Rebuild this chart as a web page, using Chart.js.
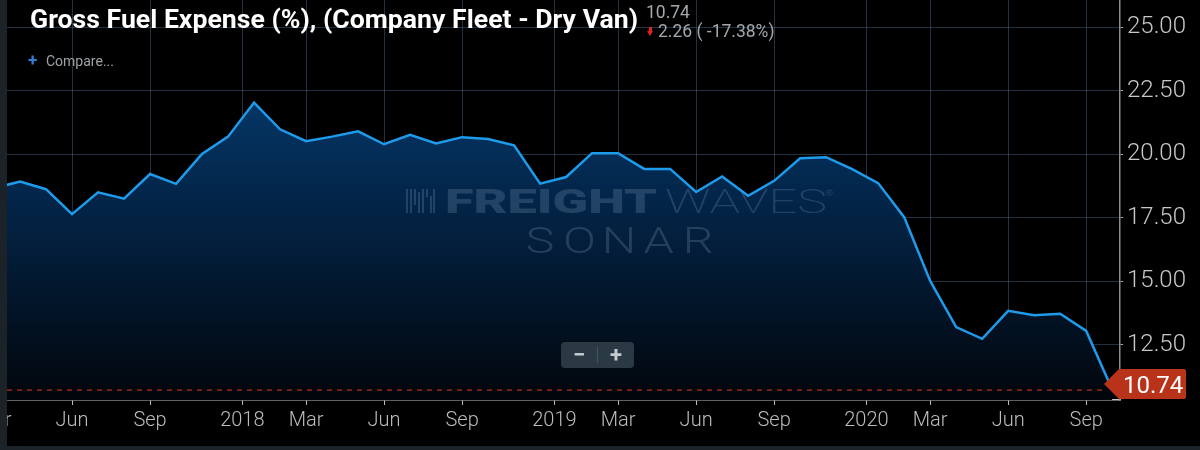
<!DOCTYPE html>
<html><head><meta charset="utf-8">
<script src="https://cdn.jsdelivr.net/npm/chart.js@4.4.0/dist/chart.umd.min.js"></script>
<style>
html,body{margin:0;padding:0;background:#000;}
#wrap{position:relative;width:1200px;height:450px;overflow:hidden;background:#000;font-family:Roboto,sans-serif;}
#c{position:absolute;left:0;top:0;}
.t{position:absolute;white-space:nowrap;transform-origin:0 0;}
#title{left:30px;top:7px;font-size:25px;line-height:25px;font-weight:700;color:#fff;}
#last{left:646px;top:4px;font-size:17.5px;line-height:17.5px;color:#a3a8ad;}
#chg{left:658px;top:22.5px;font-size:17.5px;line-height:17.5px;color:#a3a8ad;}
#arrow{position:absolute;left:647px;top:27px;width:7px;height:9px;}
#arrow .s{position:absolute;left:2px;top:0;width:3px;height:4px;background:#e3221c;}
#arrow .h{position:absolute;left:0;top:4px;width:0;height:0;border-left:3.5px solid transparent;border-right:3.5px solid transparent;border-top:5px solid #e3221c;}
#plus{left:28px;top:52px;font-size:17px;line-height:17px;font-weight:700;color:#2f7fd8;}
#cmp{left:46px;top:54px;font-size:14px;line-height:14px;color:#9ea3a8;}
#zoom{position:absolute;left:561px;top:342px;width:73px;height:26px;background:#2a3943;border-radius:4px;}
#zoom .m,#zoom .p{position:absolute;top:0;height:26px;line-height:26px;font-size:22px;font-weight:700;color:#c5ccd0;text-align:center;width:36px;}
#zoom .m{left:0;}
#zoom .p{left:37px;}
#zoom .d{position:absolute;left:36px;top:5px;width:1px;height:16px;background:#46565f;}
</style></head>
<body>
<div id="wrap">
<canvas id="c" width="1200" height="450"></canvas>
<div class="t" id="title">Gross Fuel Expense (%), (Company Fleet - Dry Van)</div>
<div class="t" id="last">10.74</div>
<div id="arrow"><div class="s"></div><div class="h"></div></div>
<div class="t" id="chg">2.26 ( -17.38%)</div>
<div class="t" id="plus">+</div>
<div class="t" id="cmp">Compare...</div>
<div id="zoom"><div class="m">−</div><div class="d"></div><div class="p">+</div></div>
</div>
<script>
// ---- data ----
const months = ['2017-03','2017-04','2017-05','2017-06','2017-07','2017-08','2017-09','2017-10','2017-11','2017-12',
 '2018-01','2018-02','2018-03','2018-04','2018-05','2018-06','2018-07','2018-08','2018-09','2018-10','2018-11','2018-12',
 '2019-01','2019-02','2019-03','2019-04','2019-05','2019-06','2019-07','2019-08','2019-09','2019-10','2019-11','2019-12',
 '2020-01','2020-02','2020-03','2020-04','2020-05','2020-06','2020-07','2020-08','2020-09','2020-10'];
const values = [18.67,18.93,18.63,17.65,18.51,18.26,19.23,18.84,20.02,20.70,
 22.04,20.99,20.52,20.70,20.91,20.40,20.77,20.43,20.68,20.61,20.36,18.85,
 19.11,20.05,20.05,19.43,19.43,18.52,19.13,18.37,18.96,19.85,19.89,19.42,
 18.87,17.53,15.02,13.20,12.74,13.84,13.67,13.73,13.05,10.74];
const xTickValues = [-1,2,5,8.55,11,14,17,20.55,23,26,29,32.55,35,38,41];
const xTickLabels = ['Mar','Jun','Sep','2018','Mar','Jun','Sep','2019','Mar','Jun','Sep','2020','Mar','Jun','Sep'];
const yTickValues = [12.5,15,17.5,20,22.5,25];
const lastValue = values[values.length-1];

function fitTitle(){
  const el=document.getElementById('title');
  el.style.transform='none';
  const w=el.getBoundingClientRect().width;
  el.style.transform='scaleX('+(608/w)+')';
}
fitTitle();
if(document.fonts&&document.fonts.ready) document.fonts.ready.then(fitTitle);

function fitText(ctx,t,font,x,y,w){
  ctx.font=font; const m=ctx.measureText(t).width;
  ctx.save(); ctx.translate(x,y); ctx.scale(w/m,1); ctx.fillText(t,0,0); ctx.restore();
}

const watermark={
  id:'watermark',
  beforeDatasetDraw(chart,args){
    if(args.index!==0) return;
    const ctx=chart.ctx; ctx.save();
    ctx.fillStyle='rgba(110,140,170,0.30)';
    ctx.textBaseline='alphabetic';
    fitText(ctx,'FREIGHT','900 34px Roboto',445,213,212);
    fitText(ctx,'WAVES','200 34px Roboto',665,213,162);
    ctx.font='9px Roboto'; ctx.fillText('®',826,196);
    ctx.font='300 36px Roboto'; ctx.textAlign='center';
    const s='SONAR';
    for(let i=0;i<s.length;i++){
      ctx.save(); ctx.translate(520+19.8+i*39.6,253); ctx.scale(1.35,1); ctx.fillText(s[i],0,0); ctx.restore();
    }
    const bars=[[406,189,24],[410,189,24],[414,189,16],[418,192,21],[422,189,24],[426,189,8],[430,196,17],[433,189,24]];
    bars.forEach(b=>ctx.fillRect(b[0],b[1],2,b[2]));
    ctx.restore();
  }
};

const overlay={
  id:'overlay',
  afterDraw(chart){
    const ctx=chart.ctx, a=chart.chartArea, ys=chart.scales.y;
    const py=ys.getPixelForValue(lastValue);
    const cy=Math.min(py,a.bottom-16);
    const tipX=1104;
    ctx.save();
    ctx.strokeStyle='rgb(190,48,32)'; ctx.lineWidth=1.2; ctx.setLineDash([5,5]);
    ctx.beginPath(); ctx.moveTo(a.left,py+0.5); ctx.lineTo(tipX,py+0.5); ctx.stroke();
    ctx.setLineDash([]);
    ctx.fillStyle='#b9331a';
    ctx.beginPath();
    ctx.moveTo(tipX,cy); ctx.lineTo(1119,cy-15); ctx.lineTo(1184,cy-15);
    ctx.quadraticCurveTo(1186,cy-15,1186,cy-13); ctx.lineTo(1186,cy+13);
    ctx.quadraticCurveTo(1186,cy+15,1184,cy+15); ctx.lineTo(1119,cy+15); ctx.closePath(); ctx.fill();
    ctx.fillStyle='#fff'; ctx.font='24px Roboto'; ctx.textAlign='left'; ctx.textBaseline='alphabetic';
    ctx.fillText(lastValue.toFixed(2),1123,cy+8.5);
    ctx.fillStyle='#1b2328';
    ctx.fillRect(0,0,7,450); ctx.fillRect(0,446,1200,4);
    ctx.restore();
  }
};

const ctx=document.getElementById('c').getContext('2d');
new Chart(ctx,{
  type:'line',
  data:{datasets:[{
    data: values.map((v,i)=>({x:i-1,y:v})),
    borderColor:'rgb(30,155,235)', borderWidth:2.5, pointRadius:0, tension:0,
    fill:'start',
    backgroundColor:(c)=>{
      const a=c.chart.chartArea; if(!a) return 'rgba(0,50,100,1)';
      const g=c.chart.ctx.createLinearGradient(0,a.top,0,a.bottom);
      g.addColorStop(0,'rgb(8,72,132)'); g.addColorStop(0.45,'rgb(3,40,78)'); g.addColorStop(1,'rgb(2,6,12)');
      return g;
    }
  }]},
  options:{
    responsive:false, animation:false, devicePixelRatio:1,
    layout:{padding:{left:7,top:0,right:0,bottom:0}},
    plugins:{legend:{display:false},tooltip:{enabled:false}},
    scales:{
      x:{type:'linear',min:-0.5,max:42.3,bounds:'data',z:1,
        afterBuildTicks:(s)=>{s.ticks=xTickValues.map(v=>({value:v}));},
        afterFit:(s)=>{s.height=50;s.paddingLeft=0;s.paddingRight=0;s.paddingTop=0;s.paddingBottom=0;},
        grid:{color:'rgba(75,110,145,0.45)',lineWidth:1,tickLength:5,tickColor:'#bdbdbd',drawTicks:true},
        border:{display:true,color:'#c4c4c4',width:1.5},
        ticks:{autoSkip:false,maxRotation:0,padding:4,color:'#bcbcbc',font:{family:'Roboto',size:20,weight:300},
          callback:(v,i)=>xTickLabels[i]}
      },
      y:{type:'linear',position:'right',min:10.33,max:26.08,bounds:'data',z:1,
        afterBuildTicks:(s)=>{s.ticks=yTickValues.map(v=>({value:v}));},
        afterFit:(s)=>{s.width=80;s.paddingLeft=0;s.paddingRight=0;s.paddingTop=0;s.paddingBottom=0;},
        grid:{color:'rgba(75,110,145,0.45)',lineWidth:1,tickLength:3,tickColor:'#aaaaaa'},
        border:{display:true,color:'#8c8c8c',width:1.5},
        ticks:{padding:4,color:'#c8c8c8',font:{family:'Roboto',size:24,weight:300},
          callback:(v)=>Number(v).toFixed(2)}
      }
    }
  },
  plugins:[watermark,overlay]
});
</script>
</body></html>
